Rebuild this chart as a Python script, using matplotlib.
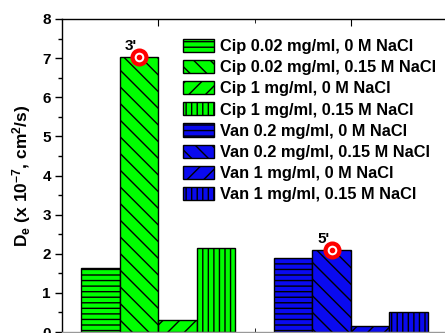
import matplotlib

matplotlib.use("Agg")
import matplotlib.pyplot as plt  # noqa: E402

plt.rcParams["font.family"] = ["Liberation Sans", "DejaVu Sans"]
plt.rcParams["font.weight"] = "bold"
plt.rcParams["mathtext.fontset"] = "custom"
plt.rcParams["mathtext.rm"] = "Liberation Sans:bold"
plt.rcParams["mathtext.it"] = "Liberation Sans:bold"
plt.rcParams["mathtext.bf"] = "Liberation Sans:bold"
plt.rcParams["hatch.linewidth"] = 1.0

# data
cip_labels = [
    "Cip 0.02 mg/ml, 0 M NaCl",
    "Cip 0.02 mg/ml, 0.15 M NaCl",
    "Cip 1 mg/ml, 0 M NaCl",
    "Cip 1 mg/ml, 0.15 M NaCl",
]
van_labels = [
    "Van 0.2 mg/ml, 0 M NaCl",
    "Van 0.2 mg/ml, 0.15 M NaCl",
    "Van 1 mg/ml, 0 M NaCl",
    "Van 1 mg/ml, 0.15 M NaCl",
]
cip_values = [1.63, 7.03, 0.30, 2.14]
van_values = [1.89, 2.09, 0.16, 0.50]
group_centers = [1, 3]
highlight = [("3'", 0, 1), ("5'", 1, 1)]  # (label, group index, bar index)

hatches = ["---", "\\\\", "//", "|||"]
colors = ["#00ff00", "#0a0aef"]
width = 0.4

fig = plt.figure(figsize=(4.45, 3.33), dpi=100)
ax = fig.add_axes([62 / 445, 1 / 333, 385 / 445, 313 / 333])

handles = []
for g, (center, values, labels) in enumerate(
    zip(group_centers, [cip_values, van_values], [cip_labels, van_labels])
):
    for i, (val, lab) in enumerate(zip(values, labels)):
        x = center + (i - 1.5) * width
        bar = ax.bar(x, val, width=width, color=colors[g], edgecolor="black",
                     linewidth=1.0, hatch=hatches[i], label=lab)
        handles.append(bar)

all_values = [cip_values, van_values]
for text, g, i in highlight:
    x = group_centers[g] + (i - 1.5) * width
    y = all_values[g][i]
    ax.plot(x, y, marker="o", ms=10, mfc="white", mec="red", mew=3, zorder=5,
            clip_on=False)
    ax.plot(x, y, marker="o", ms=3, mfc="red", mec="red", zorder=6)
    ax.annotate(text, (x, y), xytext=(-6, 3), textcoords="offset points",
                ha="center", va="bottom", fontsize=11, fontweight="bold")

ax.set_xlim(0, 4)
ax.set_ylim(0, 8)
ax.set_yticks(range(0, 9))
ax.set_yticks([v + 0.5 for v in range(8)], minor=True)
ax.set_xticks(group_centers)
ax.set_xticks([2], minor=True)
ax.tick_params(axis="y", which="major", direction="out", length=5, width=1,
               labelsize=11, pad=3, right=True)
ax.tick_params(axis="y", which="minor", direction="out", length=3, width=1)
ax.tick_params(axis="x", which="both", top=True, direction="in", length=5,
               labelbottom=False)
ax.tick_params(axis="x", which="minor", length=3)
ax.set_ylabel(r"D$_\mathregular{e}$ (x 10$^\mathregular{-7}$, cm$^\mathregular{2}$/s)",
              fontsize=12.5, fontweight="bold")
ax.yaxis.set_label_coords(-0.076, 0.5)
for s in ax.spines.values():
    s.set_linewidth(1.0)
ax.spines["bottom"].set_color("#999999")

ax.legend(handles=handles, loc="upper left", bbox_to_anchor=(183 / 445, 1 - 39 / 333),
          bbox_transform=fig.transFigure, frameon=False, fontsize=11.8,
          handlelength=1.9, handleheight=0.85, handletextpad=0.37,
          labelspacing=0.36, borderpad=0, borderaxespad=0)

fig.savefig("out.png", dpi=100)
